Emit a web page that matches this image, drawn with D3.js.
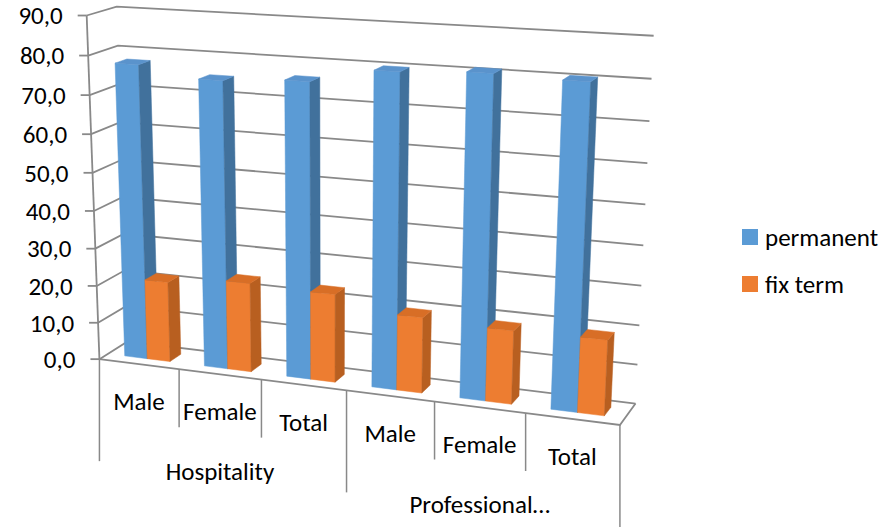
<!DOCTYPE html>
<html>
<head>
<meta charset="utf-8">
<script src="https://cdn.jsdelivr.net/npm/d3@7"></script>
<style>
  body { margin: 0; background: #fff; }
  svg text { font-family: Carlito, Calibri, Lato, "Open Sans", sans-serif; fill: #000; }
</style>
</head>
<body>
<svg id="chart" width="887" height="527"></svg>
<script>
var categories = ["Male", "Female", "Total", "Male", "Female", "Total"];
var groups = ["Hospitality", "Professional…"];
var groupSizes = [3, 3];
var seriesNames = ["permanent", "fix term"];
var permanent = [77.6, 75.0, 76.2, 80.0, 81.0, 80.5];
var fixTerm = [21.5, 23.6, 23.1, 19.6, 18.8, 19.1];
var yTicks = d3.range(0, 91, 10);
var yMax = 90;
var fontSize = 25;

var colors = {
  "permanent": {front: "#5b9bd5", side: "#41719c", top: "#5a93cc"},
  "fix term": {front: "#ed7d31", side: "#b85f20", top: "#d86e26"}
};

// 3d view: box of width W, height H, depth D seen through a pinhole camera
var view = {
  yaw: 0.3901, pitch: 0.3086, roll: 0.0064, focal: 1990.3,
  cx: 290.6, cy: 342.5, tx: -192.2, ty: -15.5, tz: 2000,
  W: 530.7, H: 344.4, D: 62.7
};

function makeProj(p) {
  var ct = Math.cos(p.yaw), st = Math.sin(p.yaw), cp = Math.cos(p.pitch), sp = Math.sin(p.pitch);
  var cr = Math.cos(p.roll), sr = Math.sin(p.roll);
  return function(X, Y, Z) {
    var x1 = X * ct + Z * st, z1 = -X * st + Z * ct;
    var xc = x1 + p.tx;
    var yc = Y * cp + z1 * sp + p.ty;
    var zc = z1 * cp - Y * sp + p.tz;
    var a = p.focal * xc / zc, b = p.focal * yc / zc;
    return [p.cx + a * cr - b * sr, p.cy - (a * sr + b * cr)];
  };
}

var svg = d3.select("#chart");
var proj = makeProj(view);
var W = view.W, H = view.H, D = view.D;

// gap width 150%: each band holds two bars and 1.5 bar widths of gap
var x = d3.scaleBand().domain(d3.range(categories.length)).range([0, W])
    .paddingInner(1.5 / 3.5).paddingOuter(0.75 / 3.5);
var xs = d3.scaleBand().domain(seriesNames).range([0, x.bandwidth()]);
var y = d3.scaleLinear().domain([0, yMax]).range([0, H]);
var barDepth = xs.bandwidth();
var z0 = (D - barDepth) / 2, z1 = z0 + barDepth;

var path = function(pts) { return "M" + pts.map(function(p) { return p[0].toFixed(2) + "," + p[1].toFixed(2); }).join("L"); };
var fmt = d3.formatLocale({decimal: ",", thousands: ".", grouping: [3], currency: ["", ""]}).format(".1f");

// walls and floor
var grid = svg.append("g").attr("fill", "none").attr("stroke", "#898989").attr("stroke-width", 1.8);
yTicks.forEach(function(t) {
  grid.append("path").attr("d", path([proj(0, y(t), 0), proj(0, y(t), D), proj(W, y(t), D)]));
});
grid.append("path").attr("d", path([proj(0, 0, 0), proj(W, 0, 0), proj(W, 0, D)]));
grid.append("path").attr("d", path([proj(0, 0, 0), proj(0, H, 0)]));

// value axis
var yAxis = svg.append("g");
yTicks.forEach(function(t) {
  var p = proj(0, y(t), 0);
  yAxis.append("line").attr("x1", p[0] - 9).attr("y1", p[1]).attr("x2", p[0]).attr("y2", p[1])
    .attr("stroke", "#898989").attr("stroke-width", 1.8);
  yAxis.append("text").attr("x", p[0] - 24).attr("y", p[1]).attr("dy", "0.35em")
    .attr("text-anchor", "end").attr("font-size", fontSize).text(fmt(t));
});

// bars, painted left to right (camera sits to the right)
var bars = [];
categories.forEach(function(c, i) {
  bars.push({i: i, s: "permanent", v: permanent[i]});
  bars.push({i: i, s: "fix term", v: fixTerm[i]});
});
bars.forEach(function(b) { b.x0 = x(b.i) + xs(b.s); b.x1 = b.x0 + xs.bandwidth(); });
bars.sort(function(a, b) { return a.x0 - b.x0; });

var barG = svg.append("g");
bars.forEach(function(b) {
  var h = y(b.v), c = colors[b.s], g = barG.append("g");
  g.append("path").attr("d", path([proj(b.x0, 0, z0), proj(b.x1, 0, z0), proj(b.x1, h, z0), proj(b.x0, h, z0)]) + "Z")
    .attr("fill", c.front).attr("stroke", c.front).attr("stroke-width", 0.5);
  g.append("path").attr("d", path([proj(b.x1, 0, z0), proj(b.x1, 0, z1), proj(b.x1, h, z1), proj(b.x1, h, z0)]) + "Z")
    .attr("fill", c.side).attr("stroke", c.side).attr("stroke-width", 0.5);
  g.append("path").attr("d", path([proj(b.x0, h, z0), proj(b.x1, h, z0), proj(b.x1, h, z1), proj(b.x0, h, z1)]) + "Z")
    .attr("fill", c.top).attr("stroke", c.top).attr("stroke-width", 0.5);
});

// category axis, two levels
var catG = svg.append("g");
var step = x.step();
var groupEdges = d3.cumsum([0].concat(groupSizes));
d3.range(categories.length + 1).forEach(function(k) {
  var p = proj(k * step, 0, 0);
  var isGroup = groupEdges.indexOf(k) >= 0;
  catG.append("line").attr("x1", p[0]).attr("y1", p[1]).attr("x2", p[0]).attr("y2", p[1] + (isGroup ? 102 : 58))
    .attr("stroke", "#898989").attr("stroke-width", 1.5);
});
categories.forEach(function(c, i) {
  var p = proj((i + 0.5) * step, 0, 0);
  catG.append("text").attr("x", p[0]).attr("y", p[1] + 37).attr("dy", "0.35em")
    .attr("text-anchor", "middle").attr("font-size", fontSize).text(c);
});
groups.forEach(function(gname, gi) {
  var p = proj((groupEdges[gi] + groupSizes[gi] / 2) * step, 0, 0);
  catG.append("text").attr("x", p[0]).attr("y", p[1] + 97).attr("dy", "0.35em")
    .attr("text-anchor", "middle").attr("font-size", fontSize).text(gname);
});

// legend
var legend = svg.append("g").attr("transform", "translate(742,229)");
seriesNames.forEach(function(s, i) {
  legend.append("rect").attr("x", 0).attr("y", i * 47).attr("width", 16).attr("height", 16).attr("fill", colors[s].front);
  legend.append("text").attr("x", 23).attr("y", i * 47 + 8).attr("dy", "0.35em").attr("font-size", fontSize).text(s);
});
</script>
</body>
</html>
